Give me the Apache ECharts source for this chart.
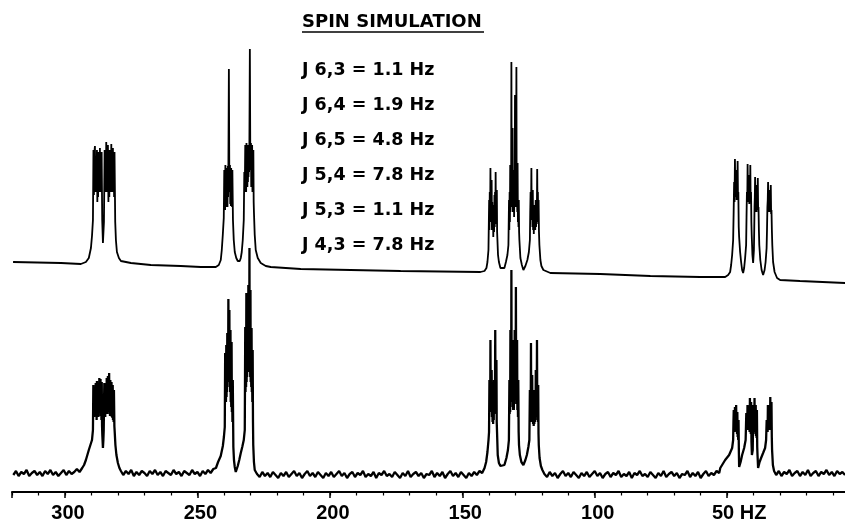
<!DOCTYPE html>
<html>
<head>
<meta charset="utf-8">
<script src="https://cdn.jsdelivr.net/npm/echarts@6/dist/echarts.min.js"></script>
<style>
html,body{margin:0;padding:0;background:#fff;}
#chart{width:845px;height:523px;}
</style>
</head>
<body>
<div id="chart"></div>
<script>
// ---- data (frequency in Hz, intensity in arbitrary units) ----
const titleText = 'SPIN SIMULATION';
const couplings = ['J 6,3 = 1.1 Hz','J 6,4 = 1.9 Hz','J 6,5 = 4.8 Hz','J 5,4 = 7.8 Hz','J 5,3 = 1.1 Hz','J 4,3 = 7.8 Hz'];
const majorTicks = [300,250,200,150,100,50];
const unitTick = 50;
const unitLabel = 'HZ';
const axisMin = 0, axisMax = 320;

// simulated spectrum (upper trace)
const simulated = [
[319.6,230],[301.5,229],[294.0,228],[292.1,230],[291.0,234],[290.2,244],[289.8,256],
[289.44,272],[289.25,342],[289.07,297],[288.88,340],[288.69,346],[288.50,300],[288.31,335],[288.12,300],[287.93,342],[287.78,290],[287.63,330],[287.50,295],[287.37,340],[287.22,300],[287.07,330],[286.94,300],[286.81,344],[286.62,300],[286.43,335],[286.30,300],[286.16,340],[285.94,272],
[285.67,249],[285.29,270],[285.03,342],[284.88,300],[284.73,336],[284.58,300],[284.42,350],[284.26,304],[284.09,340],[283.94,300],[283.79,347],[283.60,290],[283.41,330],[283.26,295],[283.11,342],[282.96,300],[282.81,336],[282.66,300],[282.51,348],[282.36,300],[282.20,337],[282.05,300],[281.90,344],[281.75,300],[281.60,330],[281.45,295],[281.30,340],[281.03,270],
[280.77,252],[280.39,240],[279.64,234],[278.88,231],[275.1,229],[267.6,227],[256.3,226],[248.7,225],[243.06,225],[241.93,227],[241.18,232],[240.80,242],[240.42,257],
[240.05,274],[239.86,322],[239.76,285],[239.67,317],[239.55,282],[239.44,327],[239.32,290],[239.21,320],[239.10,285],[238.99,324],[238.88,288],[238.76,318],[238.65,285],[238.53,326],[238.42,295],[238.31,320],[238.12,423],[237.93,300],[237.82,320],[237.71,327],[237.60,288],[237.48,318],[237.36,286],[237.25,324],[237.14,290],[237.03,316],[236.92,285],[236.80,322],[236.58,272],
[236.28,252],[235.90,240],[235.33,234],[234.77,231],[234.39,230],[234.01,231],[233.63,234],[233.26,240],[232.88,252],
[232.50,272],[232.30,320],[232.12,300],[231.94,347],[231.82,305],[231.71,330],[231.60,300],[231.48,349],[231.37,310],[231.26,335],[231.14,305],[231.03,347],[230.92,310],[230.81,335],[230.70,315],[230.58,347],[230.48,320],[230.39,340],[230.20,443],[230.01,322],[229.90,340],[229.79,349],[229.68,305],[229.56,335],[229.45,305],[229.34,347],[229.22,300],[229.11,330],[229.00,300],[228.88,342],[228.76,290],[228.66,280],
[228.36,257],[227.98,242],[227.22,234],[226.09,229],[224.20,226],[222.32,225],[211.0,223],[173.3,221],[143.14,220],[141.63,221],[140.88,224],[140.50,230],
[140.12,242],[139.86,292],[139.75,262],[139.63,300],[139.50,270],[139.37,324],[139.25,275],[139.14,300],[139.03,270],[138.92,312],[138.80,262],[138.69,290],[138.56,262],[138.43,287],[138.30,255],[138.16,275],[138.00,260],[137.86,297],[137.75,265],[137.64,300],[137.52,270],[137.41,320],[137.30,272],[137.18,300],[137.07,268],[136.96,302],[136.85,260],[136.73,262],
[136.51,237],[136.17,230],[135.6,224],[134.85,222],[134.10,224],[133.53,230],[132.96,237],
[132.58,247],[132.36,292],[132.25,262],[132.13,300],[132.02,270],[131.91,327],[131.80,280],[131.68,300],[131.57,285],[131.46,430],[131.34,285],[131.23,320],[131.12,290],[131.00,364],[130.89,280],[130.78,300],[130.66,280],[130.55,322],[130.44,275],[130.33,310],[130.21,285],[130.10,397],[129.97,285],[129.84,310],[129.70,290],[129.57,425],[129.46,285],[129.35,300],[129.23,280],[129.12,329],[129.00,270],[128.89,290],[128.78,265],[128.67,292],[128.55,260],[128.44,252],
[128.06,234],[127.50,227],[126.93,222],[126.18,226],[125.43,232],[124.86,240],
[124.48,252],[124.35,280],[124.21,300],[124.06,272],[123.91,324],[123.78,272],[123.65,295],[123.52,265],[123.38,302],[123.26,262],[123.15,280],[123.00,258],[122.85,287],[122.72,262],[122.59,275],[122.45,262],[122.29,292],[122.15,265],[122.02,290],[121.87,270],[121.72,323],[121.59,275],[121.46,300],[121.33,268],[121.19,292],[121.05,260],[120.89,247],
[120.51,232],[120.13,226],[119.38,222],[118.63,220],[116.74,219],[97.9,218],[79.0,216],[60.2,215],[50.76,215],[49.63,217],[48.88,220],[48.50,227],[48.12,237],[47.74,252],
[47.55,280],[47.37,310],[47.22,290],[47.06,333],[46.93,300],[46.80,315],[46.67,295],[46.54,322],[46.43,292],[46.31,312],[46.18,300],[46.05,331],[45.92,295],[45.78,300],[45.63,265],[45.48,255],[45.11,240],[44.73,230],[44.35,222],[43.97,219],[43.59,224],[43.22,234],[42.84,247],
[42.69,275],[42.54,300],[42.41,290],[42.28,328],[42.15,292],[42.01,310],[41.90,290],[41.78,317],[41.65,288],[41.52,300],[41.39,290],[41.26,327],[41.13,290],[40.99,300],[40.86,270],[40.73,257],[40.46,237],[40.20,229],[39.90,242],
[39.78,262],[39.67,285],[39.56,295],[39.45,315],[39.32,285],[39.18,298],[39.07,280],[38.96,307],[38.83,282],[38.69,295],[38.56,285],[38.43,314],[38.30,280],[38.17,285],[38.02,262],[37.87,247],[37.49,232],[37.00,222],[36.43,217],[35.87,222],[35.49,230],[35.11,244],
[34.96,262],[34.81,285],[34.68,292],[34.55,310],[34.42,282],[34.28,295],[34.17,280],[34.06,302],[33.92,280],[33.79,292],[33.66,280],[33.53,307],[33.40,278],[33.27,282],[33.12,262],[32.96,247],[32.66,230],[32.10,220],[31.16,214],[30.0,212],[22.5,211],[5.5,209]
];

// experimental spectrum (lower trace)
const experimental = [
[319.5,17],[318.5,21],[317.5,16],[316.5,20],[315.5,18],[314.5,22],[313.5,16],[312.5,19],[311.5,21],[310.5,17],[309.5,20],[308.5,16],[307.5,21],[306.5,18],[305.5,22],[304.5,17],[303.5,20],[302.5,16],[301.5,19],[300.5,22],[299.5,17],[298.5,21],[297.5,18],[296.5,20],[295.5,23],[294.5,20],[293.5,24],[292.8,27],[292.1,32],[291.0,42],[289.8,52],
[289.44,62],[289.29,107],[289.16,80],[289.07,98],[288.95,75],[288.84,104],[288.72,76],[288.61,100],[288.50,80],[288.39,109],[288.27,78],[288.16,102],[288.05,72],[287.93,111],[287.82,75],[287.71,100],[287.60,78],[287.48,108],[287.37,75],[287.26,102],[287.15,80],[287.03,114],[286.92,82],[286.81,104],[286.70,80],[286.58,113],[286.47,76],[286.35,100],[286.24,72],[286.12,110],[286.00,66],[285.90,57],[285.67,44],[285.50,52],[285.37,62],[285.25,90],[285.14,109],[285.03,78],[284.92,100],[284.80,75],[284.69,107],[284.58,78],[284.47,102],[284.36,80],[284.24,114],[284.13,78],[284.01,104],[283.90,80],[283.79,116],[283.68,82],[283.56,106],[283.45,80],[283.33,119],[283.22,78],[283.11,104],[283.00,76],[282.88,112],[282.77,78],[282.66,100],[282.55,76],[282.43,110],[282.32,75],[282.20,100],[282.09,74],[281.98,107],[281.87,72],[281.75,98],[281.63,70],[281.52,102],[281.35,66],[281.22,60],[280.96,47],[280.58,37],[280.02,29],[279.45,24],[278.88,21],
[278.0,17],[277.0,21],[276.0,18],[275.0,22],[274.0,16],[273.0,20],[272.0,17],[271.0,21],[270.0,19],[269.0,16],[268.0,21],[267.0,18],[266.0,22],[265.0,17],[264.0,20],[263.0,16],[262.0,21],[261.0,19],[260.0,17],[259.0,22],[258.0,18],[257.0,20],[256.0,16],[255.0,21],[254.0,19],[253.0,17],[252.0,22],[251.0,18],[250.0,20],[249.0,16],[248.0,21],[247.0,18],[246.0,22],[245.0,19],[244.0,23],[243.0,24],[242.2,30],[241.2,36],[240.4,46],[240.0,55],[239.67,65],
[239.52,139],[239.43,95],[239.33,120],[239.22,90],[239.10,147],[239.00,95],[238.91,120],[238.82,100],[238.72,159],[238.62,110],[238.53,140],[238.42,110],[238.31,193],[238.22,120],[238.12,150],[238.02,115],[237.93,182],[237.84,105],[237.74,125],[237.63,100],[237.52,162],[237.42,90],[237.33,110],[237.22,85],[237.10,150],[236.99,80],[236.88,100],[236.77,70],[236.65,112],[236.43,45],[236.20,32],[235.90,25],[235.52,20],[235.14,22],[234.77,26],[234.20,32],[233.63,39],[233.07,45],[232.50,52],[232.12,62],
[231.94,165],[231.84,100],[231.75,130],[231.63,105],[231.52,199],[231.42,110],[231.33,150],[231.23,115],[231.14,192],[231.05,120],[230.96,160],[230.86,120],[230.77,207],[230.67,125],[230.58,170],[230.46,130],[230.35,244],[230.26,120],[230.16,160],[230.06,115],[229.97,202],[229.88,110],[229.79,140],[229.67,105],[229.56,164],[229.46,100],[229.37,125],[229.26,90],[229.14,142],[229.02,70],[228.92,47],[228.66,30],[228.36,22],
[227.5,18],[226.5,15],[225.5,20],[224.5,16],[223.5,19],[222.5,15],[221.5,20],[220.5,17],[219.5,14],[218.5,19],[217.5,16],[216.5,20],[215.5,15],[214.5,18],[213.5,21],[212.5,16],[211.5,19],[210.5,14],[209.5,18],[208.5,21],[207.5,16],[206.5,19],[205.5,15],[204.5,20],[203.5,17],[202.5,14],[201.5,19],[200.5,16],[199.5,20],[198.5,15],[197.5,18],[196.5,21],[195.5,16],[194.5,19],[193.5,14],[192.5,18],[191.5,20],[190.5,15],[189.5,19],[188.5,17],[187.5,21],[186.5,15],[185.5,18],[184.5,16],[183.5,20],[182.5,14],[181.5,19],[180.5,17],[179.5,21],[178.5,16],[177.5,18],[176.5,15],[175.5,20],[174.5,17],[173.5,14],[172.5,19],[171.5,16],[170.5,21],[169.5,15],[168.5,18],[167.5,20],[166.5,16],[165.5,19],[164.5,14],[163.5,18],[162.5,17],[161.5,21],[160.5,15],[159.5,19],[158.5,16],[157.5,20],[156.5,14],[155.5,18],[154.5,21],[153.5,16],[152.5,19],[151.5,15],[150.5,20],[149.5,17],[148.5,14],[147.5,19],[146.5,16],[145.5,20],[144.5,17],[143.5,21],[142.5,19],
[141.6,24],[141.0,30],[140.5,40],[140.1,52],[139.9,60],
[139.75,112],[139.66,80],[139.56,95],[139.46,80],[139.37,152],[139.26,85],[139.14,110],[139.03,80],[138.92,122],[138.80,75],[138.69,95],[138.57,70],[138.46,92],[138.35,68],[138.24,85],[138.12,72],[138.01,112],[137.90,78],[137.79,100],[137.68,80],[137.56,162],[137.45,85],[137.33,110],[137.22,82],[137.11,132],[137.00,70],[136.88,60],[136.62,37],[136.17,29],[135.60,26],[134.85,25],[134.10,27],[133.34,34],[132.77,42],[132.40,52],
[132.21,112],[132.11,78],[132.02,100],[131.92,80],[131.83,162],[131.73,90],[131.64,120],[131.55,95],[131.46,222],[131.36,95],[131.27,130],[131.17,90],[131.08,152],[130.98,85],[130.89,110],[130.78,82],[130.67,122],[130.55,82],[130.44,110],[130.32,88],[130.21,162],[130.10,92],[129.99,125],[129.87,95],[129.76,205],[129.65,92],[129.54,120],[129.42,88],[129.31,152],[129.20,82],[129.08,100],[128.97,75],[128.86,112],[128.72,60],[128.59,47],[128.26,37],[127.69,30],[126.93,27],[126.18,32],[125.62,37],[125.05,45],[124.67,52],
[124.48,102],[124.38,70],[124.29,90],[124.18,72],[124.07,149],[123.96,78],[123.84,100],[123.72,72],[123.61,117],[123.50,70],[123.38,85],[123.27,68],[123.15,92],[123.04,66],[122.93,80],[122.81,68],[122.70,102],[122.59,70],[122.48,88],[122.36,72],[122.25,122],[122.13,75],[122.02,100],[121.91,78],[121.80,152],[121.68,76],[121.57,95],[121.45,70],[121.34,107],[121.22,58],[121.12,47],[120.82,34],[120.32,26],[119.76,22],
[119.0,18],[118.0,15],[117.0,20],[116.0,16],[115.0,19],[114.0,14],[113.0,18],[112.0,21],[111.0,16],[110.0,19],[109.0,15],[108.0,20],[107.0,17],[106.0,14],[105.0,19],[104.0,16],[103.0,20],[102.0,15],[101.0,18],[100.0,21],[99.0,16],[98.0,19],[97.0,14],[96.0,18],[95.0,20],[94.0,15],[93.0,19],[92.0,17],[91.0,21],[90.0,15],[89.0,18],[88.0,16],[87.0,20],[86.0,14],[85.0,19],[84.0,17],[83.0,21],[82.0,16],[81.0,18],[80.0,15],[79.0,20],[78.0,17],[77.0,14],[76.0,19],[75.0,16],[74.0,21],[73.0,15],[72.0,18],[71.0,20],[70.0,16],[69.0,19],[68.0,14],[67.0,18],[66.0,17],[65.0,21],[64.0,15],[63.0,19],[62.0,16],[61.0,20],[60.0,14],[59.0,18],[58.0,21],[57.0,16],[56.0,19],[55.0,17],[54.0,21],[53.0,19],[52.6,24],
[50.76,32],[49.26,37],[48.12,44],[47.74,52],[47.62,70],[47.51,82],[47.40,60],[47.29,70],[47.17,62],[47.06,85],[46.95,62],[46.84,72],[46.72,62],[46.61,87],[46.50,60],[46.39,68],[46.27,58],[46.16,80],[46.04,55],[45.93,60],[45.82,52],[45.71,72],[45.58,40],[45.48,25],[44.92,30],[44.35,37],[43.59,44],[43.03,52],
[42.90,65],[42.77,79],[42.65,62],[42.54,72],[42.43,62],[42.32,87],[42.20,64],[42.09,74],[41.98,64],[41.86,82],[41.75,62],[41.64,70],[41.52,60],[41.41,94],[41.30,60],[41.19,68],[41.07,58],[40.96,90],[40.82,50],[40.66,37],[40.35,42],
[40.24,65],[40.13,87],[40.01,62],[39.90,70],[39.78,62],[39.67,94],[39.56,60],[39.45,66],[39.33,58],[39.22,87],[39.11,56],[39.00,64],[38.88,54],[38.77,82],[38.65,45],[38.54,37],[38.32,24],[37.76,30],[37.19,34],[36.43,39],[35.68,44],[35.30,52],
[35.19,62],[35.08,72],[34.96,60],[34.85,66],[34.73,60],[34.62,87],[34.51,62],[34.40,70],[34.28,62],[34.17,82],[34.05,62],[33.94,68],[33.83,62],[33.72,95],[33.60,62],[33.49,70],[33.38,62],[33.27,90],[33.15,55],[33.04,42],[32.74,27],[32.29,21],
[31.5,17],[30.5,21],[29.5,16],[28.5,20],[27.5,18],[26.5,22],[25.5,16],[24.5,19],[23.5,21],[22.5,16],[21.5,20],[20.5,17],[19.5,22],[18.5,16],[17.5,19],[16.5,21],[15.5,16],[14.5,20],[13.5,18],[12.5,22],[11.5,17],[10.5,20],[9.5,16],[8.5,21],[7.5,18],[6.5,20],[5.5,17]
];

// ---- chart ----
const chart = echarts.init(document.getElementById('chart'), null, {renderer:'canvas'});
const textFont = 'bold 17.5px "DejaVu Sans"';
const graphics = [
  {type:'text', x:302, y:22, style:{text:titleText, font:'bold 18px "DejaVu Sans"', fill:'#000', verticalAlign:'middle'}},
  {type:'line', shape:{x1:302, y1:32, x2:484, y2:32}, style:{stroke:'#000', lineWidth:1.5}}
].concat(couplings.map((t,i)=>({
  type:'text', x:302, y:70 + 35*i,
  style:{text:t, font:textFont, fill:'#000', verticalAlign:'middle'}
})));

chart.setOption({
  animation:false,
  backgroundColor:'#fff',
  grid:{left:12, top:42, width:847.6, height:450, containLabel:false, outerBoundsMode:'none'},
  xAxis:[
    {type:'value', inverse:true, min:axisMin, max:axisMax, interval:50,
     axisLine:{show:true, onZero:false, lineStyle:{color:'#000', width:2}},
     axisTick:{show:true, length:6, lineStyle:{color:'#000', width:1.5}},
     splitLine:{show:false},
     axisLabel:{
       show:true, margin:11, color:'#000',
       fontFamily:'"Liberation Sans", Arial, sans-serif', fontWeight:'bold', fontSize:20,
       formatter:function(v){
         if (majorTicks.indexOf(v) < 0) return '';
         if (v === unitTick) return '{u|' + v + ' ' + unitLabel + '}';
         return '{n|' + v + '}';
       },
       rich:{
         n:{padding:[0,0,0,6], fontFamily:'"Liberation Sans", Arial, sans-serif', fontWeight:'bold', fontSize:20, color:'#000'},
         u:{padding:[0,0,0,24], fontFamily:'"Liberation Sans", Arial, sans-serif', fontWeight:'bold', fontSize:20, color:'#000'}
       }
     }},
    {type:'value', inverse:true, min:axisMin, max:axisMax, interval:10, position:'bottom',
     axisLine:{show:false, onZero:false},
     axisTick:{show:true, length:3.5, lineStyle:{color:'#000', width:1.2}},
     splitLine:{show:false},
     axisLabel:{show:false}}
  ],
  yAxis:{type:'value', min:0, max:450, show:false, splitLine:{show:false}},
  graphic:graphics,
  series:[
    {name:'simulation', type:'line', data:simulated, showSymbol:false, symbol:'none',
     lineStyle:{color:'#000', width:1.8}, clip:true, silent:true},
    {name:'experiment', type:'line', data:experimental, showSymbol:false, symbol:'none',
     lineStyle:{color:'#000', width:2.3}, clip:true, silent:true}
  ]
});
</script>
</body>
</html>
